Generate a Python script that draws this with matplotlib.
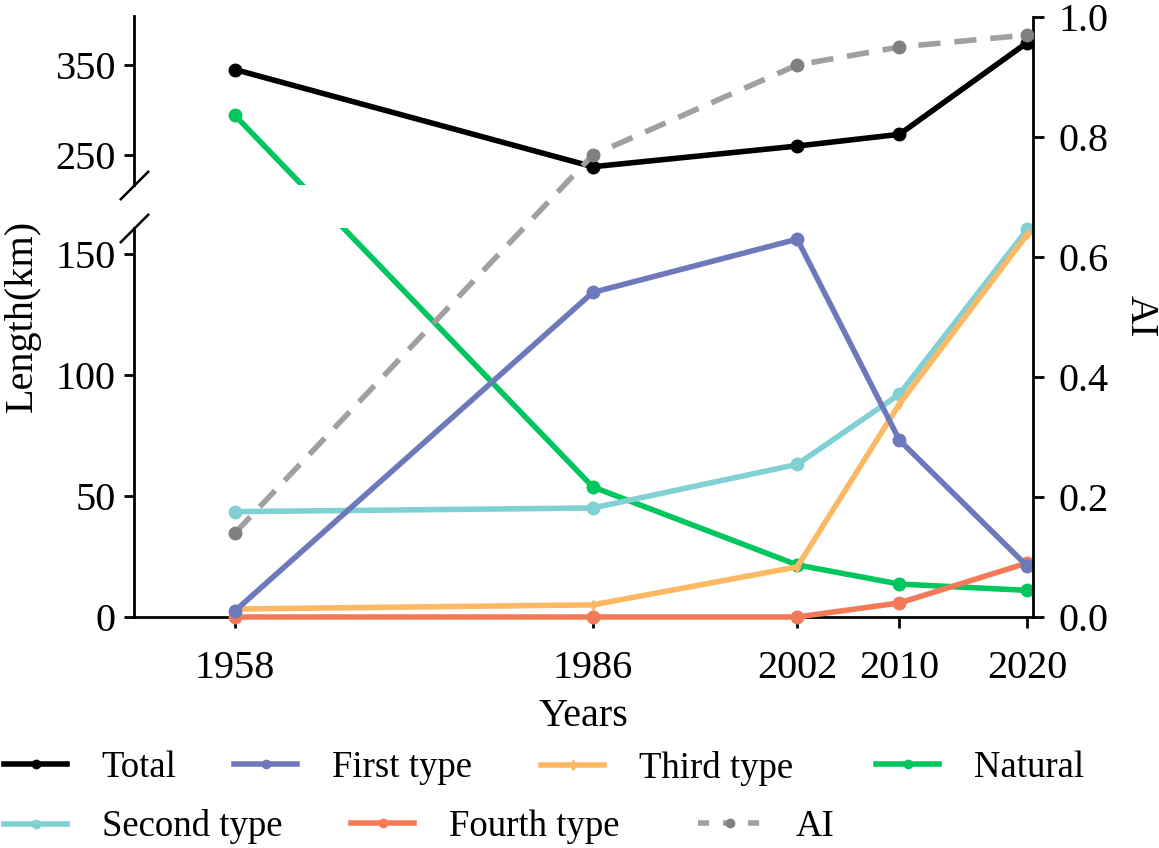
import matplotlib
matplotlib.use("Agg")
import matplotlib.pyplot as plt
from matplotlib.lines import Line2D

plt.rcParams['font.family'] = ['Liberation Serif', 'DejaVu Serif']

# data
years = [1958, 1986, 2002, 2010, 2020]
total = [345, 237, 260, 273, 375]
first_type = [2.5, 134, 156, 73, 21]
second_type = [43.5, 45, 63, 92, 160]
third_type = [3.3, 5, 20.7, 88, 158]
fourth_type = [0, 0, 0, 5.8, 22.3]
natural = [294, 53.7, 21.5, 13.6, 11]
ai = [0.14, 0.77, 0.92, 0.95, 0.97]

c_total = '#000000'
c_first = '#6e79bb'
c_second = '#80d0d4'
c_third = '#fdb863'
c_fourth = '#f37a59'
c_natural = '#00c65e'
c_ai = '#a0a0a0'
c_ai_mk = '#808080'

lw = 4
ms = 9
fs = 29

W, H = 1159, 848
fig = plt.figure(figsize=(W / 100, H / 100), dpi=100)

left, right = 134 / W, 1033 / W
ax_top = fig.add_axes([left, 1 - 185 / H, right - left, (185 - 16) / H])
ax_bot = fig.add_axes([left, 1 - 617 / H, right - left, (617 - 228) / H])
ax_ai = fig.add_axes([left, 1 - 617 / H, right - left, (617 - 17) / H])

xlim = (1950.1, 2020.45)
for ax in (ax_top, ax_bot, ax_ai):
    ax.set_xlim(*xlim)
ax_top.set_ylim(216.7, 404.5)
ax_bot.set_ylim(0, 160.6)
ax_ai.set_ylim(0, 1.0)

# spines
for ax in (ax_top, ax_bot):
    ax.spines['top'].set_visible(False)
    ax.spines['right'].set_visible(False)
    ax.spines['left'].set_linewidth(2)
    ax.spines['bottom'].set_linewidth(2)
ax_top.spines['bottom'].set_visible(False)
ax_top.set_xticks([])
ax_top.set_yticks([250, 350])
ax_bot.set_yticks([0, 50, 100, 150])
ax_bot.set_xticks(years)
ax_bot.set_xticklabels([str(y) for y in years])

for sp in ('left', 'top', 'bottom'):
    ax_ai.spines[sp].set_visible(False)
ax_ai.spines['right'].set_linewidth(2)
ax_ai.patch.set_visible(False)
ax_ai.xaxis.set_visible(False)
ax_ai.yaxis.tick_right()
ax_ai.set_yticks([0, 0.2, 0.4, 0.6, 0.8, 1.0])
ax_ai.set_yticklabels(['0.0', '0.2', '0.4', '0.6', '0.8', '1.0'])

ax_top.tick_params(axis='y', direction='out', length=7, width=2, labelsize=fs, pad=6)
ax_bot.tick_params(axis='y', direction='out', length=7, width=2, labelsize=fs, pad=6)
ax_bot.tick_params(axis='x', direction='out', length=8, width=2, labelsize=fs, pad=16)
ax_ai.tick_params(axis='y', direction='out', length=8, width=2, labelsize=fs, pad=10)

# break marks
brk = dict(marker=[(-1, -1), (1, 1)], markersize=21, linestyle='none',
           color='k', mec='k', mew=1.8, clip_on=False)
ax_top.plot([0], [0], transform=ax_top.transAxes, **brk)
ax_bot.plot([0], [1], transform=ax_bot.transAxes, **brk)


def move(ax_from, ax_to, x, y):
    disp = ax_from.transData.transform((x, y))
    return ax_to.transData.inverted().transform(disp)


# Total in upper panel
ax_top.plot(years, total, color=c_total, lw=lw, marker='o', ms=ms, zorder=3)

# Natural crosses the break
nx1, ny1 = move(ax_bot, ax_top, years[1], natural[1])
ax_top.plot([years[0], nx1], [natural[0], ny1], color=c_natural, lw=lw, zorder=3)
ax_top.plot([years[0]], [natural[0]], color=c_natural, marker='o', ms=ms, zorder=3)
nx0, ny0 = move(ax_top, ax_bot, years[0], natural[0])
ax_bot.plot([nx0] + years[1:], [ny0] + natural[1:], color=c_natural, lw=lw, zorder=3)
ax_bot.plot(years[1:], natural[1:], color=c_natural, marker='o', ms=ms,
            linestyle='none', zorder=3, clip_on=False)

ax_bot.plot(years, second_type, color=c_second, lw=lw, marker='o', ms=ms, zorder=3, clip_on=False)
ax_bot.plot(years, third_type, color=c_third, lw=lw, marker='d', ms=5, zorder=3, clip_on=False)
ax_bot.plot(years, fourth_type, color=c_fourth, lw=lw, marker='o', ms=ms, zorder=3, clip_on=False)
ax_bot.plot(years, first_type, color=c_first, lw=lw, marker='o', ms=ms, zorder=3, clip_on=False)

ax_ai.plot(years, ai, color=c_ai, lw=lw, linestyle=(0, (4, 2.5)), marker='o', ms=ms,
           mfc=c_ai_mk, mec=c_ai_mk, zorder=3)

# labels
ax_bot.set_xlabel('Years', fontsize=fs, labelpad=8)
fig.text(22 / W, 1 - 316 / H, 'Length(km)', fontsize=fs, rotation=90, ha='center', va='center')
fig.text(1140 / W, 1 - 316 / H, 'AI', fontsize=fs, rotation=270, ha='center', va='center')


def proxy(color, marker='o', ls='-', msz=6, mc=None):
    return Line2D([], [], color=color, lw=lw, linestyle=ls, marker=marker, ms=msz,
                  mfc=mc or color, mec=mc or color)


# legend entries, each placed where it sits in the reference (x, y in pixels)
entries = [
    (proxy(c_total), 'Total', 4, 768),
    (proxy(c_first), 'First type', 234, 768),
    (proxy(c_third, marker='d', msz=5), 'Third type', 541, 768),
    (proxy(c_natural), 'Natural', 876, 768),
    (proxy(c_second), 'Second type', 4, 827),
    (proxy(c_fourth), 'Fourth type', 351, 827),
    (proxy(c_ai, ls=(0, (2, 2.5)), mc=c_ai_mk), 'AI', 698, 827),
]
for h, lab, px, py in entries:
    fig.legend([h], [lab], frameon=False, fontsize=26.5, handlelength=1.72,
               handletextpad=0.93, borderpad=0, borderaxespad=0, loc='center left',
               bbox_to_anchor=(px / W, 1 - py / H), bbox_transform=fig.transFigure)

fig.savefig('out.png', dpi=100)
